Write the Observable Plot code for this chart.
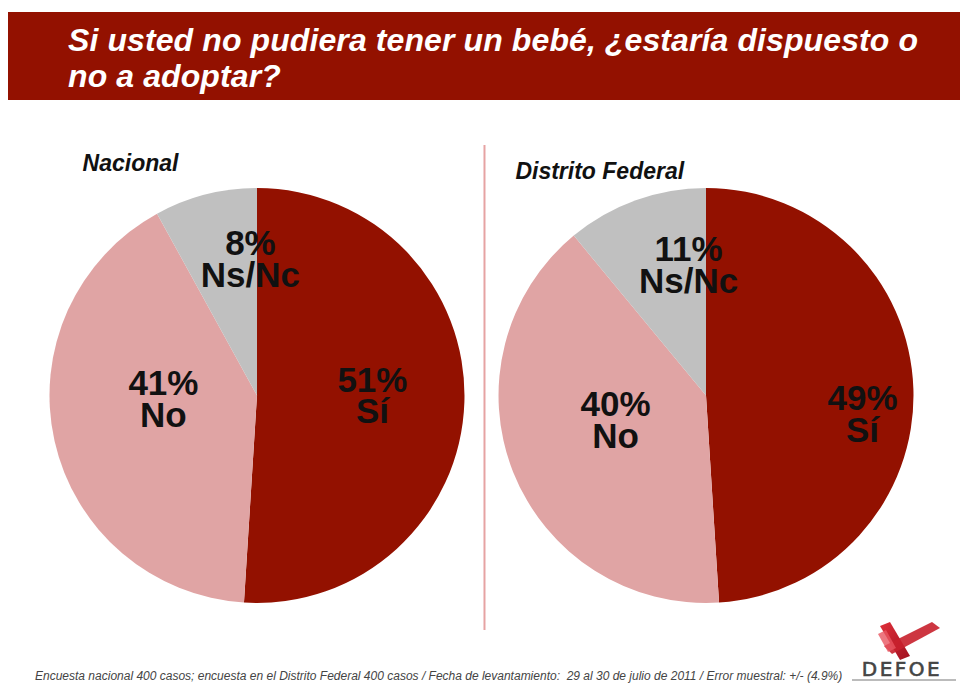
<!DOCTYPE html>
<html>
<head>
<meta charset="utf-8">
<script src="https://cdn.jsdelivr.net/npm/d3@7"></script>
<script src="https://cdn.jsdelivr.net/npm/@observablehq/plot@0.6"></script>
<style>
  html, body { margin: 0; padding: 0; background: #fff; width: 960px; height: 684px; overflow: hidden; font-family: "Liberation Sans", Arial, sans-serif; }
  #banner { position: absolute; left: 8px; top: 12px; width: 952px; height: 88px; background: #931100; box-sizing: border-box; padding: 10px 0 0 60px; }
  #banner h1 { margin: 0; color: #fff; font-size: 32px; line-height: 36px; font-weight: bold; font-style: italic; letter-spacing: 0.1px; }
  #chart { position: absolute; left: 0; top: 100px; }
  #footer { position: absolute; left: 0; top: 650px; width: 960px; height: 34px; }
  #caption { position: absolute; left: 35px; top: 19px; font-size: 12px; font-style: italic; color: #444; white-space: nowrap; letter-spacing: 0px; }
  #logo { position: absolute; left: 840px; top: 612px; }
</style>
</head>
<body>
<div id="banner"><h1>Si usted no pudiera tener un bebé, ¿estaría dispuesto o<br>no a adoptar?</h1></div>
<div id="chart"></div>
<div id="footer"><div id="caption">Encuesta nacional 400 casos; encuesta en el Distrito Federal 400 casos / Fecha de levantamiento:&nbsp; 29 al 30 de julio de 2011 / Error muestral: +/- (4.9%)</div></div>
<svg id="logo" width="120" height="72" viewBox="0 0 120 72">
  <defs>
    <linearGradient id="lg" x1="0" y1="0" x2="1" y2="1">
      <stop offset="0" stop-color="#e0303a"/><stop offset="1" stop-color="#a01020"/>
    </linearGradient>
  </defs>
  <polygon points="40,14 50,10 70,44 60,48" fill="url(#lg)"/>
  <polygon points="44,34 92,10 100,16 52,42" fill="#c8202c" opacity="0.9"/>
  <polygon points="38,22 46,18 56,36 48,40" fill="#e85560" opacity="0.8"/>
  <text x="62" y="64" text-anchor="middle" font-family="DejaVu Sans, Liberation Sans, sans-serif" font-size="20" font-weight="normal" letter-spacing="2.5" fill="#444" stroke="#444" stroke-width="0.6">DEFOE</text>
  <rect x="12" y="67" width="104" height="2" fill="#bbb"/>
</svg>
<script>
// ---- data ----
const charts = ["Nacional", "Distrito Federal"];
const categories = ["Sí", "No", "Ns/Nc"];
const nacional = [51, 41, 8];
const distritoFederal = [49, 40, 11];
const colors = ["#931100", "#e0a4a4", "#c0c0c0"];

// ---- layout (radius units) ----
const centers = [0, 2.164];          // pie centre x positions
const titlePos = [[-0.843, 1.085], [-0.921, 1.045]];
const labelPlace = [                  // [radius fraction, angle tweak in degrees]
  [[0.554, -1], [0.454, 9.6], [0.651, 11.4]],
  [[0.758, 9.1], [0.456, 5.7], [0.628, 11.9]]
];
const seriesValues = [nacional, distritoFederal];

const rows = [];
charts.forEach((chart, ci) => {
  const vals = seriesValues[ci];
  const arcs = d3.pie().sort(null)(vals);
  categories.forEach((cat, k) => {
    const a = arcs[k];
    const [f, tw] = labelPlace[ci][k];
    const th = (a.startAngle + a.endAngle) / 2 + tw * Math.PI / 180;
    rows.push({chart, ci, category: cat, k, value: vals[k], arc: a,
      lx: centers[ci] + f * Math.sin(th), ly: f * Math.cos(th)});
  });
});

function pies(index, scales, values, dimensions, context) {
  const g = d3.create("svg:g");
  const rpx = Math.abs(scales.x(1) - scales.x(0));
  const arc = d3.arc().innerRadius(0).outerRadius(rpx);
  for (const r of rows) {
    g.append("path")
      .attr("transform", `translate(${scales.x(centers[r.ci])},${scales.y(0)})`)
      .attr("d", arc(r.arc))
      .attr("fill", colors[r.k]);
  }
  return g.node();
}

const FONT = "Liberation Sans, Arial, sans-serif";
const plot = Plot.plot({
  width: 960,
  height: 550,
  marginLeft: 49.5,
  marginRight: 46.5,
  marginTop: 88,
  marginBottom: 47,
  x: {domain: [-1, centers[1] + 1], axis: null},
  y: {domain: [-1, 1], axis: null},
  style: {fontFamily: FONT, background: "transparent", overflow: "visible"},
  marks: [
    pies,
    Plot.ruleX([1.094], {y1: 1.207, y2: -1.13, stroke: "#e6a3a3", strokeWidth: 2}),
    Plot.text(rows, {x: "lx", y: "ly", text: d => `${d.value}%\n${d.category}`,
      fontSize: 35, fontWeight: "bold", lineHeight: 0.9, textAnchor: "middle", lineAnchor: "middle",
      fill: "#111", fontFamily: FONT}),
    Plot.text(charts, {x: (d, i) => centers[i] + titlePos[i][0], y: (d, i) => titlePos[i][1], text: d => d,
      textAnchor: "start", lineAnchor: "bottom", fontSize: 23, fontWeight: "bold", fontStyle: "italic",
      fill: "#111", fontFamily: FONT})
  ]
});
document.getElementById("chart").appendChild(plot);
</script>
</body>
</html>
